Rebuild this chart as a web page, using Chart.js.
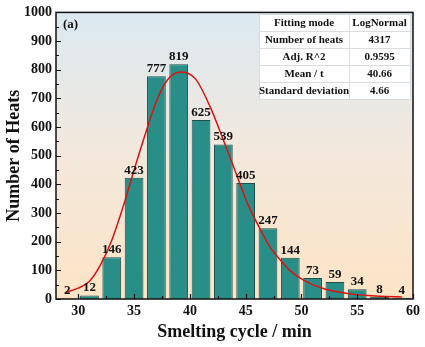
<!DOCTYPE html>
<html>
<head>
<meta charset="utf-8">
<script src="https://cdn.jsdelivr.net/npm/chart.js@4.4.1/dist/chart.umd.min.js"></script>
<style>
  html, body { margin: 0; padding: 0; background: #fff; }
  #wrap { width: 425px; height: 347px; position: relative; }
</style>
</head>
<body>
<div id="wrap"><canvas id="chart" width="425" height="347"></canvas></div>
<script>
// Histogram bins (bin centres, minutes) and counts
const binCentres = [29, 31, 33, 35, 37, 39, 41, 43, 45, 47, 49, 51, 53, 55, 57, 59];
const heatCounts = [2, 12, 146, 423, 777, 819, 625, 539, 405, 247, 144, 73, 59, 34, 8, 4];

// LogNormal fit curve
const fitX = [28.9, 30.0, 31.0, 32.0, 33.0, 34.0, 35.0, 36.0, 37.0, 38.0, 39.2, 40.5, 41.8, 43.0, 44.2, 45.2, 46.3, 47.2, 48.2, 49.0, 50.0, 51.0, 52.1, 53.2, 54.5, 56.0, 57.5, 59.0];
const fitY = [24, 38, 62, 120, 205, 320, 450, 575, 690, 765, 792, 768, 672, 555, 432, 330, 244, 180, 132, 98, 70, 50, 35, 25, 17, 12, 9, 7];

// Axis ticks
const xTicks = [30, 35, 40, 45, 50, 55, 60];

// Fit statistics table
const tableRows = [
  ["Fitting mode", "LogNormal"],
  ["Number of heats", "4317"],
  ["Adj. R^2", "0.9595"],
  ["Mean / t", "40.66"],
  ["Standard deviation", "4.66"]
];

const serif = "'Liberation Serif', 'DejaVu Serif', serif";

// Plot background gradient + frame + inside ticks + labels + table
const decorPlugin = {
  id: "decor",
  beforeDraw(chart) {
    const { ctx, chartArea: a } = chart;
    const g = ctx.createLinearGradient(0, a.top, 0, a.bottom);
    g.addColorStop(0, "#dbe9f1");
    g.addColorStop(0.5, "#f3e8dc");
    g.addColorStop(1, "#fde4c6");
    ctx.save();
    ctx.fillStyle = g;
    ctx.fillRect(a.left, a.top, a.right - a.left, a.bottom - a.top);
    ctx.restore();
  },
  afterDraw(chart) {
    const { ctx, chartArea: a, scales } = chart;
    const xs = scales.x, ys = scales.y;
    ctx.save();
    // frame
    ctx.strokeStyle = "#111";
    ctx.lineWidth = 1.5;
    ctx.strokeRect(a.left, a.top, a.right - a.left, a.bottom - a.top);

    // inside ticks
    ctx.lineWidth = 1.2;
    ctx.beginPath();
    for (let v = 0; v <= 1000; v += 50) {
      const y = Math.round(ys.getPixelForValue(v)) + 0.5;
      const len = v % 100 === 0 ? 5 : 3;
      ctx.moveTo(a.left, y); ctx.lineTo(a.left + len, y);
    }
    for (let v = 30; v <= 60; v += 2.5) {
      const x = Math.round(xs.getPixelForValue(v)) + 0.5;
      const len = v % 5 === 0 ? 5 : 3;
      ctx.moveTo(x, a.bottom); ctx.lineTo(x, a.bottom - len);
    }
    ctx.stroke();

    // value labels above bars
    ctx.fillStyle = "#111";
    ctx.font = "bold 13px " + serif;
    ctx.textAlign = "center";
    ctx.textBaseline = "bottom";
    chart.getDatasetMeta(1).data.forEach((bar, i) => {
      ctx.fillText(String(heatCounts[i]), bar.x, bar.y - 1);
    });

    // panel label
    ctx.textAlign = "left";
    ctx.textBaseline = "middle";
    ctx.font = "bold 13px " + serif;
    ctx.fillText("(a)", a.left + 7, a.top + 12);

    // fit table
    const tx = 259, ty = 14, colW = [90, 61], rowH = 17;
    const tw = colW[0] + colW[1];
    ctx.fillStyle = "#fff";
    ctx.fillRect(tx, ty, tw, rowH * tableRows.length);
    ctx.strokeStyle = "#d8dde2";
    ctx.lineWidth = 1;
    ctx.strokeRect(tx + 0.5, ty + 0.5, tw, rowH * tableRows.length);
    ctx.beginPath();
    for (let r = 1; r < tableRows.length; r++) {
      ctx.moveTo(tx, ty + r * rowH + 0.5); ctx.lineTo(tx + tw, ty + r * rowH + 0.5);
    }
    ctx.moveTo(tx + colW[0] + 0.5, ty); ctx.lineTo(tx + colW[0] + 0.5, ty + rowH * tableRows.length);
    ctx.stroke();
    ctx.fillStyle = "#111";
    ctx.font = "bold 11px " + serif;
    ctx.textAlign = "center";
    tableRows.forEach((row, r) => {
      const cy = ty + r * rowH + rowH / 2 + 1;
      ctx.fillText(row[0], tx + colW[0] / 2, cy);
      ctx.fillText(row[1], tx + colW[0] + colW[1] / 2, cy);
    });
    ctx.restore();
  }
};

new Chart(document.getElementById("chart"), {
  data: {
    datasets: [
      {
        type: "line",
        label: "LogNormal fit",
        data: fitX.map((x, i) => ({ x: x, y: fitY[i] })),
        borderColor: "#e01010",
        borderWidth: 1.5,
        pointRadius: 0,
        fill: false,
        cubicInterpolationMode: "monotone",
        order: 0
      },
      {
        type: "bar",
        label: "Number of Heats",
        data: binCentres.map((x, i) => ({ x: x, y: heatCounts[i] })),
        backgroundColor: "#2a8e88",
        borderColor: "#1c4e4b",
        borderWidth: 1,
        barPercentage: 1,
        categoryPercentage: 0.84,
        order: 1
      }
    ]
  },
  options: {
    responsive: false,
    animation: false,
    layout: { padding: { top: 12, right: 12, left: 0, bottom: 0 } },
    plugins: {
      legend: { display: false },
      tooltip: { enabled: false }
    },
    scales: {
      x: {
        type: "linear",
        min: 28,
        max: 60,
        offset: false,
        afterFit(scale) { scale.height = 48; },
        afterBuildTicks(scale) { scale.ticks = xTicks.map(v => ({ value: v })); },
        grid: { display: false, drawTicks: false },
        border: { display: false },
        ticks: {
          padding: 4,
          color: "#111",
          font: { family: serif, size: 14, weight: "bold" },
          callback: v => String(v)
        },
        title: {
          display: true,
          text: "Smelting cycle / min",
          color: "#111",
          font: { family: serif, size: 18, weight: "bold" },
          padding: { top: 0 }
        }
      },
      y: {
        min: 0,
        max: 1000,
        afterFit(scale) { scale.width = 56; },
        grid: { display: false, drawTicks: false },
        border: { display: false },
        ticks: {
          stepSize: 100,
          padding: 4,
          color: "#111",
          font: { family: serif, size: 14, weight: "bold" },
          callback: v => String(v)
        },
        title: {
          display: true,
          text: "Number of Heats",
          color: "#111",
          font: { family: serif, size: 18, weight: "bold" },
          padding: { bottom: 0 }
        }
      }
    }
  },
  plugins: [decorPlugin]
});
</script>
</body>
</html>
